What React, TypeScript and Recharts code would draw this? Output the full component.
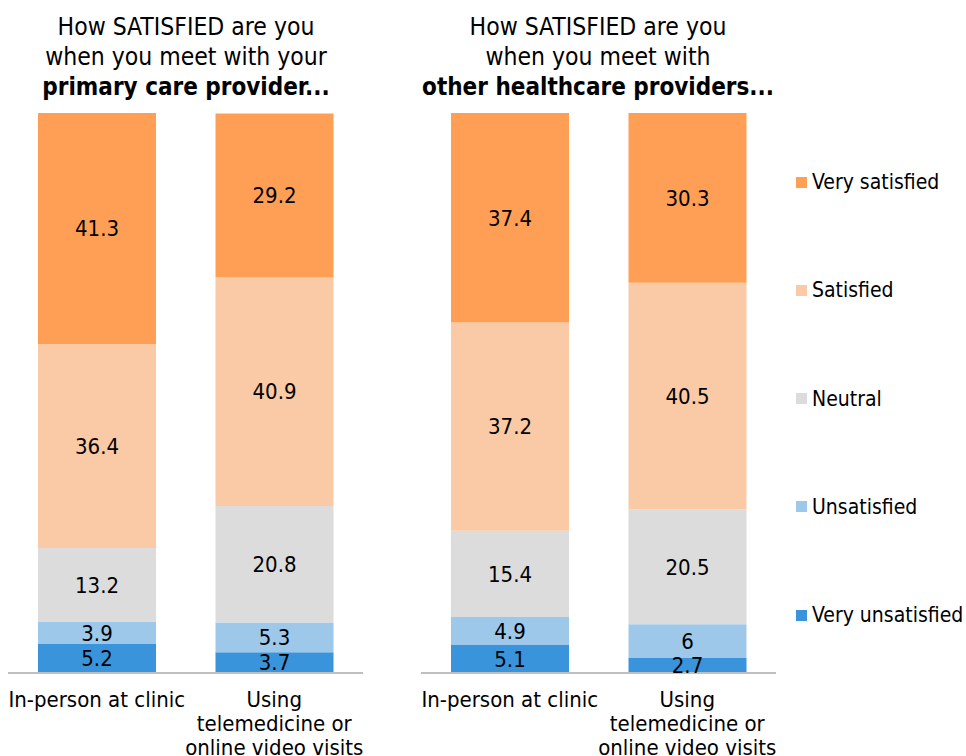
import React from "react";
import { BarChart, Bar, XAxis, YAxis, LabelList } from "recharts";

const categories = ["In-person at clinic", "Using telemedicine or online video visits"];
const categoryLines = [["In-person at clinic"], ["Using", "telemedicine or", "online video visits"]];
const seriesNames = ["Very unsatisfied", "Unsatisfied", "Neutral", "Satisfied", "Very satisfied"];
const seriesKeys = ["vu", "u", "n", "s", "vs"];
const seriesColors = ["#3A94DB", "#9DC8EA", "#DCDCDC", "#FAC9A5", "#FF9F55"];

// primary care provider: [in-person, telemedicine]
const pcpVeryUnsatisfied = [5.2, 3.7];
const pcpUnsatisfied = [3.9, 5.3];
const pcpNeutral = [13.2, 20.8];
const pcpSatisfied = [36.4, 40.9];
const pcpVerySatisfied = [41.3, 29.2];

// other healthcare providers
const ohpVeryUnsatisfied = [5.1, 2.7];
const ohpUnsatisfied = [4.9, 6];
const ohpNeutral = [15.4, 20.5];
const ohpSatisfied = [37.2, 40.5];
const ohpVerySatisfied = [37.4, 30.3];

const titleA = ["How SATISFIED are you", "when you meet with your", "primary care provider..."];
const titleB = ["How SATISFIED are you", "when you meet with", "other healthcare providers..."];

const FONT = "'DejaVu Sans Condensed', 'DejaVu Sans', sans-serif";

function build(vu: number[], u: number[], n: number[], s: number[], vs: number[]) {
  return categories.map((c, i) => ({
    name: c,
    idx: i,
    vu: vu[i],
    u: u[i],
    n: n[i],
    s: s[i],
    vs: vs[i],
  }));
}

const dataA = build(pcpVeryUnsatisfied, pcpUnsatisfied, pcpNeutral, pcpSatisfied, pcpVerySatisfied);
const dataB = build(ohpVeryUnsatisfied, ohpUnsatisfied, ohpNeutral, ohpSatisfied, ohpVerySatisfied);

const Tick = (props: any) => {
  const { x, y, index } = props;
  const lines = categoryLines[index] || [];
  return (
    <g transform={`translate(${x},${y})`}>
      {lines.map((l, i) => (
        <text key={i} x={0} y={26 + i * 24} textAnchor="middle" fill="#000" fontSize={22} fontFamily={FONT}>
          {l}
        </text>
      ))}
    </g>
  );
};

function Panel({ data, left }: { data: any[]; left: number }) {
  return (
    <div style={{ position: "absolute", left, top: 0 }}>
      <BarChart width={375} height={756} data={data} margin={{ top: 113, right: 12, bottom: 0, left: 8 }} barSize={118}>
        <YAxis hide domain={[0, 100]} />
        <XAxis
          dataKey="name"
          height={83}
          axisLine={{ stroke: "#BFBFBF", strokeWidth: 2 }}
          tickLine={false}
          tick={<Tick />}
          interval={0}
        />
        {seriesKeys.map((k, i) => (
          <Bar key={k} dataKey={k} stackId="a" fill={seriesColors[i]} isAnimationActive={false}>
            <LabelList dataKey={k} position="center" fill="#000" fontSize={22} fontFamily={FONT} />
          </Bar>
        ))}
      </BarChart>
    </div>
  );
}

function Title({ lines, cx }: { lines: string[]; cx: number }) {
  return (
    <div style={{ position: "absolute", left: cx - 220, width: 440, top: 12, textAlign: "center", fontFamily: FONT, fontSize: 24, lineHeight: "30px", color: "#000" }}>
      {lines.map((l, i) => (
        <div key={i} style={{ fontWeight: i === 2 ? "bold" : "normal", fontSize: i === 2 ? 24 : 24.5 }}>{l}</div>
      ))}
    </div>
  );
}

export default function App() {
  const legendItems = seriesNames.map((n, i) => ({ n, c: seriesColors[i] })).reverse();
  return (
    <div style={{ position: "absolute", left: 0, top: 0, width: 966, height: 756, background: "#fff", overflow: "hidden" }}>
      <Title lines={titleA} cx={186} />
      <Title lines={titleB} cx={598} />
      <Panel data={dataA} left={0} />
      <Panel data={dataB} left={413} />
      {legendItems.map((it, i) => (
        <div key={it.n} style={{ position: "absolute", left: 796, top: 182 + i * 108.3 - 12, height: 24, display: "flex", alignItems: "center", fontFamily: FONT, fontSize: 21, color: "#000", whiteSpace: "nowrap" }}>
          <span style={{ display: "inline-block", width: 11, height: 11, background: it.c, marginRight: 5 }} />
          {it.n}
        </div>
      ))}
    </div>
  );
}
